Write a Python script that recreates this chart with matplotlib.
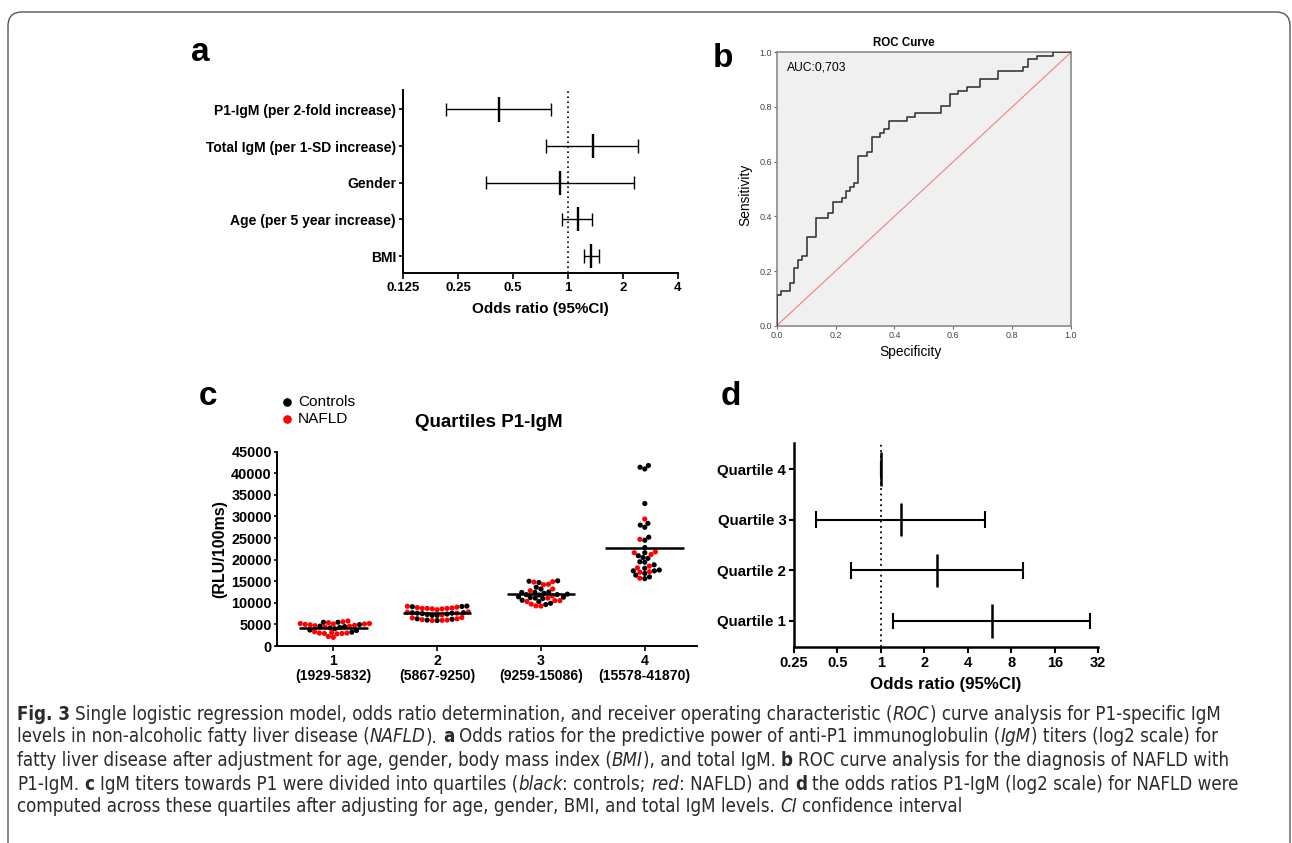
import numpy as np
import matplotlib
matplotlib.use('Agg')
import matplotlib.pyplot as plt
from matplotlib.patches import FancyBboxPatch
from matplotlib.lines import Line2D
from matplotlib import font_manager
from matplotlib.transforms import IdentityTransform

# ---------------- data ----------------
# panel a
a_labels = ['P1-IgM (per 2-fold increase)', 'Total IgM (per 1-SD increase)', 'Gender',
            'Age (per 5 year increase)', 'BMI']
a_or = [0.42, 1.37, 0.91, 1.13, 1.34]
a_lo = [0.216, 0.76, 0.357, 0.934, 1.22]
a_hi = [0.81, 2.42, 2.31, 1.36, 1.49]
a_ticks = [0.125, 0.25, 0.5, 1, 2, 4]
a_ticklabels = ['0.125', '0.25', '0.5', '1', '2', '4']

# panel b (ROC)
roc_x = [0, 0, 0.0136, 0.045, 0.06, 0.0736, 0.087, 0.102, 0.1325, 0.1755, 0.19, 0.221, 0.234,
         0.249, 0.263, 0.277, 0.308, 0.323, 0.351, 0.366, 0.38, 0.442, 0.47, 0.557, 0.588,
         0.617, 0.648, 0.691, 0.751, 0.838, 0.853, 0.883, 0.94, 1.0]
roc_y = [0, 0.112, 0.127, 0.155, 0.212, 0.24, 0.255, 0.323, 0.395, 0.411, 0.451, 0.466, 0.494,
         0.509, 0.523, 0.621, 0.634, 0.691, 0.704, 0.72, 0.75, 0.762, 0.777, 0.804, 0.848,
         0.86, 0.874, 0.902, 0.932, 0.945, 0.974, 0.988, 1.0, 1.0]
auc_text = 'AUC:0,703'

# panel c (quartiles)
c_cats = ['1\n(1929-5832)', '2\n(5867-9250)', '3\n(9259-15086)', '4\n(15578-41870)']
c_controls = [
    [5500, 4950, 5500, 4300, 4200, 4600, 4500, 3200, 3600, 3700, 4000],
    [9100, 9250, 9150, 7100, 7600, 7700, 7400, 7700, 7600, 7300, 7100, 6000, 5900, 6200, 6300, 7500],
    [14700, 15000, 15100, 13600, 12400, 12500, 12400, 13200, 12000, 11400, 11200, 11000, 11100,
     11300, 11800, 11900, 11900, 9600, 9900, 10300, 10600, 12200],
    [41400, 41000, 41800, 33000, 28400, 27500, 28000, 24500, 25200, 22800, 20900, 21600, 20500,
     20300, 19500, 19400, 18800, 18000, 17400, 16800, 17400, 17600, 16000, 15600, 16400],
]
c_nafld = [
    [5800, 5400, 5200, 5100, 5000, 4900, 5100, 5200, 5600, 4600, 4700, 4400, 3000, 2900, 2800,
     3300, 2900, 3000, 3100, 2000, 2200, 4800],
    [8700, 8600, 8400, 9200, 9000, 8900, 8800, 8700, 8600, 8700, 7900, 7600, 7200, 6600, 6300,
     6100, 5900, 5950, 6000, 6500, 7800],
    [14900, 14300, 14200, 14800, 13200, 12800, 11100, 11600, 10500, 10300, 9700, 9300, 9250, 10500],
    [29400, 24700, 21600, 21200, 21800, 18500, 17200, 17100, 18100, 15700],
]
c_medians = [4240, 7700, 11970, 22770]
c_yticks = [0, 5000, 10000, 15000, 20000, 25000, 30000, 35000, 40000, 45000]

# panel d
d_labels = ['Quartile 1', 'Quartile 2', 'Quartile 3', 'Quartile 4']
d_or = [5.85, 2.44, 1.376, 1.0]
d_lo = [1.21, 0.616, 0.357, 1.0]
d_hi = [28.1, 9.7, 5.29, 1.0]
d_ticks = [0.25, 0.5, 1, 2, 4, 8, 16, 32]
d_ticklabels = ['0.25', '0.5', '1', '2', '4', '8', '16', '32']

# caption
cap_lines = [
    [('Fig. 3', 'b'), (' Single logistic regression model, odds ratio determination, and receiver operating characteristic (', 'r'),
     ('ROC', 'i'), (') curve analysis for P1-specific IgM', 'r')],
    [('levels in non-alcoholic fatty liver disease (', 'r'), ('NAFLD', 'i'), ('). ', 'r'), ('a', 'b'),
     (' Odds ratios for the predictive power of anti-P1 immunoglobulin (', 'r'), ('IgM', 'i'),
     (') titers (log2 scale) for', 'r')],
    [('fatty liver disease after adjustment for age, gender, body mass index (', 'r'), ('BMI', 'i'),
     ('), and total IgM. ', 'r'), ('b', 'b'), (' ROC curve analysis for the diagnosis of NAFLD with', 'r')],
    [('P1-IgM. ', 'r'), ('c', 'b'), (' IgM titers towards P1 were divided into quartiles (', 'r'), ('black', 'i'),
     (': controls; ', 'r'), ('red', 'i'), (': NAFLD) and ', 'r'), ('d', 'b'),
     (' the odds ratios P1-IgM (log2 scale) for NAFLD were', 'r')],
    [('computed across these quartiles after adjusting for age, gender, BMI, and total IgM levels. ', 'r'),
     ('CI', 'i'), (' confidence interval', 'r')],
]

# ---------------- figure ----------------
plt.rcParams['font.family'] = ['Liberation Sans', 'DejaVu Sans']
W, H = 1292, 843
fig = plt.figure(figsize=(W / 100, H / 100), dpi=100)


def ax_px(l, t, r, b):
    return fig.add_axes([l / W, 1 - b / H, (r - l) / W, (b - t) / H])


# border
fig.add_artist(FancyBboxPatch((8, -30), 1282, H - 12 + 30, boxstyle='round,pad=0,rounding_size=14',
                              transform=IdentityTransform(), facecolor='none', edgecolor='#555555', lw=1.0))

# panel labels
for lab, x, y in [('a', 191, 61), ('b', 713, 67), ('c', 199, 405), ('d', 721, 405)]:
    fig.text(x / W, 1 - y / H, lab, fontsize=24, fontweight='bold', va='baseline', ha='left')

# ---------------- panel a ----------------
ax = ax_px(403, 90, 677.7, 272.7)
ax.set_xscale('log', base=2)
ax.set_xlim(0.125, 4)
ax.set_ylim(0.545, 5.53)
ypos = np.arange(len(a_labels), 0, -1)
ax.hlines(ypos, a_lo, a_hi, color='black', lw=1.0)
ax.vlines(a_lo, ypos - 0.18, ypos + 0.18, color='black', lw=1.0)
ax.vlines(a_hi, ypos - 0.18, ypos + 0.18, color='black', lw=1.0)
ax.vlines(a_or, ypos - 0.33, ypos + 0.33, color='black', lw=1.7)
ax.axvline(1, color='black', lw=1.2, ls=(0, (1, 2)))
ax.set_yticks(ypos)
ax.set_yticklabels(a_labels, fontsize=10, fontweight='bold')
ax.set_xticks(a_ticks)
ax.set_xticklabels(a_ticklabels, fontsize=9.5, fontweight='bold')
ax.minorticks_off()
for s in ['top', 'right']:
    ax.spines[s].set_visible(False)
for s in ['left', 'bottom']:
    ax.spines[s].set_linewidth(1.4)
ax.tick_params(axis='y', length=3, width=1.2, pad=2)
ax.tick_params(axis='x', length=4, width=1.2, pad=3)
ax.set_xlabel('Odds ratio (95%CI)', fontsize=11, fontweight='bold')
ax.xaxis.set_label_coords(0.499, -0.199)
ax.xaxis.label.set_va('center')

# ---------------- panel b ----------------
ax = ax_px(776.7, 52.3, 1071, 325.7)
ax.set_facecolor('#f0f0f0')
ax.step(roc_x, roc_y, where='post', color='#3a3a3a', lw=1.2, zorder=3)
ax.plot([0, 1], [0, 1], color='#f08080', lw=0.8, zorder=2)
ax.set_xlim(0, 1)
ax.set_ylim(0, 1)
ticks = [0, 0.2, 0.4, 0.6, 0.8, 1.0]
ax.set_xticks(ticks)
ax.set_yticks(ticks)
ax.set_xticklabels(['0.0', '0.2', '0.4', '0.6', '0.8', '1.0'], fontsize=6.5, color='#444444')
ax.set_yticklabels(['0.0', '0.2', '0.4', '0.6', '0.8', '1.0'], fontsize=6.5, color='#444444')
ax.tick_params(length=2.5, width=0.8, color='#666666', pad=1)
for s in ax.spines.values():
    s.set_color('#8a8a8a')
    s.set_linewidth(1.2)
ax.text(0.034, 0.944, auc_text, transform=ax.transAxes, fontsize=8.7, va='center', ha='left')
ax.text(0.433, 1.034, 'ROC Curve', transform=ax.transAxes, fontsize=8.3, fontweight='bold',
        va='center', ha='center')
ax.set_ylabel('Sensitivity', fontsize=9.9)
ax.yaxis.set_label_coords(-0.108, 0.48)
ax.yaxis.label.set_va('center')
ax.set_xlabel('Specificity', fontsize=9.9)
ax.xaxis.set_label_coords(0.456, -0.096)
ax.xaxis.label.set_va('center')

# ---------------- panel c ----------------
cl, ct, cr, cb = 276.7, 451.7, 696.7, 646
ax = ax_px(cl, ct, cr, cb)
xlo, xhi = 0.455, 4.5
ylo, yhi = 0, 45000
ax.set_xlim(xlo, xhi)
ax.set_ylim(ylo, yhi)
px_per_x = (cr - cl) / (xhi - xlo)
px_per_y = (cb - ct) / (yhi - ylo)
dot_d = 5.0


def swarm_offsets(ypx, d):
    order = np.argsort(ypx, kind='stable')
    px_list, py_list = [], []
    off = np.zeros(len(ypx))
    for i in order:
        y = ypx[i]
        cands = [0.0]
        for px, py in zip(px_list, py_list):
            dy = y - py
            if abs(dy) < d:
                dx = np.sqrt(d * d - dy * dy)
                cands.extend([px + dx, px - dx])
        cands.sort(key=lambda c: (abs(c), c))
        for c in cands:
            if all((c - px) ** 2 + (y - py) ** 2 >= d * d - 1e-6 for px, py in zip(px_list, py_list)):
                off[i] = c
                break
        px_list.append(off[i])
        py_list.append(y)
    return off


med_half = [0.33, 0.33, 0.33, 0.38]
for k in range(4):
    vals = np.array(c_controls[k] + c_nafld[k], dtype=float)
    cols = ['black'] * len(c_controls[k]) + ['#ff0000'] * len(c_nafld[k])
    off = swarm_offsets(vals * px_per_y, dot_d) / px_per_x
    ax.scatter(k + 1 + off, vals, s=14, c=cols, linewidths=0, zorder=3)
    ax.hlines(c_medians[k], k + 1 - med_half[k], k + 1 + med_half[k], color='black', lw=1.8, zorder=4)

ax.set_xticks([1, 2, 3, 4])
ax.set_xticklabels(c_cats, fontsize=10.1, fontweight='bold', linespacing=1.15)
ax.set_yticks(c_yticks)
ax.set_yticklabels([str(v) for v in c_yticks], fontsize=10.4, fontweight='bold')
for s in ['top', 'right']:
    ax.spines[s].set_visible(False)
for s in ['left', 'bottom']:
    ax.spines[s].set_linewidth(1.4)
ax.tick_params(axis='y', length=2.5, width=1.2, pad=1)
ax.tick_params(axis='x', length=3.6, width=1.2, pad=2)
ax.set_ylabel('(RLU/100ms)', fontsize=11.5, fontweight='bold')
ax.yaxis.set_label_coords(-0.135, 0.498)
ax.yaxis.label.set_va('center')
ax.text(0.5055, 1.148, 'Quartiles P1-IgM', transform=ax.transAxes, fontsize=13.5, fontweight='bold',
        ha='center', va='center')
# legend
for lab, col, yy in [('Controls', 'black', 401.7), ('NAFLD', '#ff0000', 419.3)]:
    fig.add_artist(Line2D([287 / W], [1 - yy / H], marker='o', markersize=5.2, color=col, lw=0,
                          transform=fig.transFigure))
    fig.text(298 / W, 1 - yy / H, lab, fontsize=11.1, va='center', ha='left')

# ---------------- panel d ----------------
ax = ax_px(794, 443.3, 1098.3, 646.7)
ax.set_xscale('log', base=2)
ax.set_xlim(0.25, 32)
ax.set_ylim(0.49, 4.51)
yd = np.arange(1, len(d_labels) + 1)
ax.hlines(yd, d_lo, d_hi, color='black', lw=1.5)
ax.vlines(d_lo, yd - 0.165, yd + 0.165, color='black', lw=1.5)
ax.vlines(d_hi, yd - 0.165, yd + 0.165, color='black', lw=1.5)
ax.vlines(d_or, yd - 0.33, yd + 0.33, color='black', lw=1.8)
ax.axvline(1, color='black', lw=1.3, ls=(0, (1, 2)))
ax.set_yticks(yd)
ax.set_yticklabels(d_labels, fontsize=10.8, fontweight='bold')
ax.set_xticks(d_ticks)
ax.set_xticklabels(d_ticklabels, fontsize=10.5, fontweight='bold')
ax.minorticks_off()
for s in ['top', 'right']:
    ax.spines[s].set_visible(False)
for s in ['left', 'bottom']:
    ax.spines[s].set_linewidth(1.8)
ax.tick_params(axis='y', length=3.5, width=1.5, pad=2)
ax.tick_params(axis='x', length=4, width=1.5, pad=3)
ax.set_xlabel('Odds ratio (95%CI)', fontsize=12.2, fontweight='bold')
ax.xaxis.set_label_coords(0.4995, -0.188)
ax.xaxis.label.set_va('center')

# ---------------- caption ----------------
cap_family = ['Liberation Sans']
cap_stretch = 'normal'
for fam, stretch in [('Liberation Sans Narrow', 'normal'), ('DejaVu Sans', 'condensed'),
                     ('Open Sans', 'condensed'), ('Roboto', 'condensed')]:
    try:
        path = font_manager.findfont(font_manager.FontProperties(family=fam, stretch=stretch),
                                     fallback_to_default=False)
        if ('Narrow' in path) or ('Condensed' in path):
            cap_family = [fam]
            cap_stretch = stretch
            break
    except Exception:
        pass

renderer = fig.canvas.get_renderer()
cap_color = '#2b2b2b'


def style_kw(st, size):
    kw = dict(fontsize=size, family=cap_family, fontstretch=cap_stretch, color=cap_color)
    if st == 'b':
        kw['fontweight'] = 'bold'
    elif st == 'i':
        kw['fontstyle'] = 'italic'
    return kw


def text_w(s, kw):
    if not s:
        return 0.0
    t = fig.text(0, 0, s, **kw)
    w = t.get_window_extent(renderer).width
    t.remove()
    return w


def seg_width(s, kw):
    core = s.strip(' ')
    nl = len(s) - len(s.lstrip(' '))
    nr = len(s) - len(s.rstrip(' '))
    sp = text_w('x x', kw) - text_w('xx', kw)
    return core, nl, nr, sp, text_w(core, kw)


def line_width(segs, size):
    tot = 0
    for s, st in segs:
        core, nl, nr, sp, w = seg_width(s, style_kw(st, size))
        tot += (nl + nr) * sp + w
    return tot


base = 12
scale = 1205.0 / line_width(cap_lines[0], base)
csize = base * scale
cap_y = [714, 737, 760, 784, 807]
for segs, yy in zip(cap_lines, cap_y):
    x = 17.0
    for s, st in segs:
        kw = style_kw(st, csize)
        core, nl, nr, sp, w = seg_width(s, kw)
        x += nl * sp
        fig.text(x / W, 1 - yy / H, core, va='center', ha='left', **kw)
        x += w + nr * sp

fig.savefig('out.png', dpi=100)
